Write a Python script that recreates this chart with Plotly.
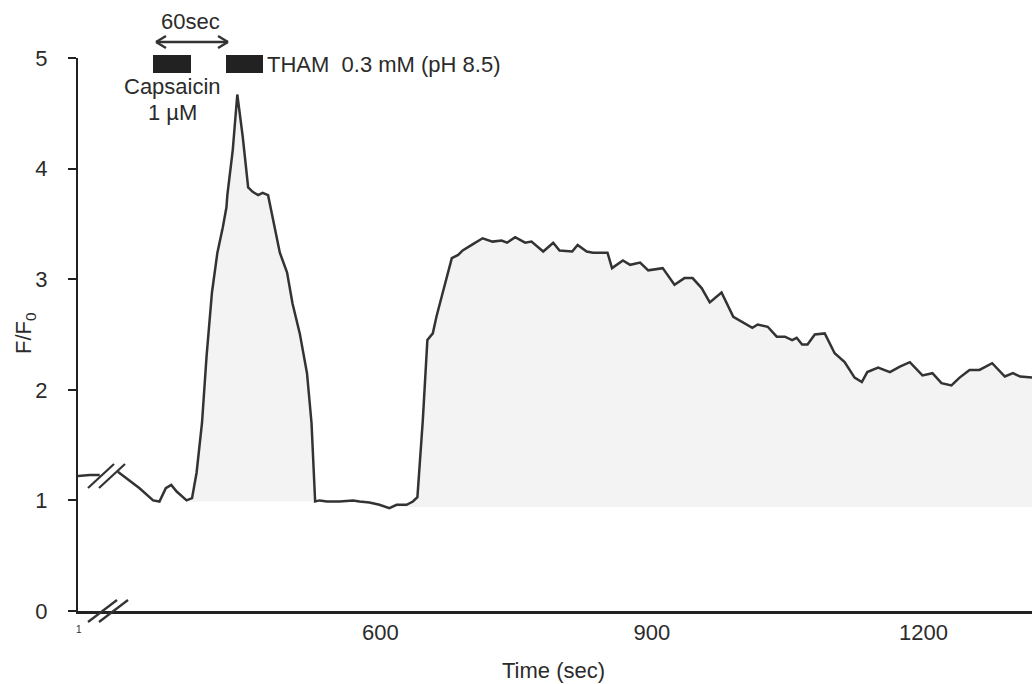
import plotly.graph_objects as go

# ---- data ----
# pre-break segment
t_pre = [266, 279, 290]
f_pre = [1.22, 1.23, 1.23]

# main trace (time in sec, F/F0)
t_main = [310, 323, 334, 349, 356, 363, 369, 375, 386, 392, 397, 403, 408, 414, 420,
          426, 430, 431, 437, 442, 448, 454, 459, 465, 470, 476, 481, 489, 497, 503,
          511, 519, 524, 528, 533, 541, 555, 570, 577, 588, 599, 610, 618, 629, 636,
          641, 647, 652, 658, 662, 669, 679, 686, 691, 701, 713, 724, 734, 740, 749,
          760, 767, 780, 791, 798, 812, 818, 828, 835, 851, 856, 868, 876, 887, 896,
          912, 925, 936, 945, 955, 964, 977, 990, 1001, 1011, 1017, 1028, 1038, 1047,
          1055, 1060, 1066, 1072, 1080, 1091, 1102, 1113, 1124, 1132, 1138, 1150,
          1163, 1174, 1185, 1199, 1210, 1220, 1231, 1240, 1251, 1262, 1276, 1290,
          1299, 1307, 1320]
f_main = [1.26, 1.18, 1.11, 1.00, 0.99, 1.11, 1.14, 1.08, 1.00, 1.02, 1.25, 1.70, 2.30, 2.88, 3.24,
          3.47, 3.65, 3.76, 4.17, 4.67, 4.29, 3.83, 3.79, 3.76, 3.78, 3.76, 3.56, 3.24, 3.06, 2.78,
          2.51, 2.15, 1.70, 0.99, 1.00, 0.99, 0.99, 1.00, 0.99, 0.98, 0.96, 0.93, 0.96, 0.96, 0.99,
          1.03, 1.73, 2.45, 2.51, 2.66, 2.88, 3.19, 3.22, 3.26, 3.31, 3.37, 3.34, 3.35, 3.33, 3.38,
          3.33, 3.34, 3.25, 3.33, 3.26, 3.25, 3.31, 3.25, 3.24, 3.24, 3.10, 3.17, 3.13, 3.15, 3.08,
          3.10, 2.95, 3.01, 3.01, 2.92, 2.79, 2.88, 2.66, 2.61, 2.56, 2.59, 2.57, 2.48, 2.48,
          2.45, 2.47, 2.41, 2.41, 2.50, 2.51, 2.33, 2.25, 2.11, 2.07, 2.16, 2.20,
          2.16, 2.21, 2.25, 2.13, 2.15, 2.06, 2.04, 2.11, 2.18, 2.18, 2.24, 2.12,
          2.15, 2.12, 2.11]

x_tickvals = [600, 900, 1200]
x_ticktext = ["600", "900", "1200"]
y_tickvals = [0, 1, 2, 3, 4, 5]

X_RANGE = [266, 1320]
Y_RANGE = [0, 5]

LINE = "#333333"
FILL = "rgb(243,243,243)"
TXT = "#2b2b2b"
FONT = "Liberation Sans, Arial, sans-serif"
FS = 22

fig = go.Figure()

# shaded responses (segment 1: capsaicin, segment 2: THAM)
seg1 = [i for i, t in enumerate(t_main) if 392 <= t <= 528]
seg2 = [i for i, t in enumerate(t_main) if t >= 618]
for seg, base in ((seg1, 0.99), (seg2, 0.94)):
    xs = [t_main[i] for i in seg]
    ys = [f_main[i] for i in seg]
    fig.add_trace(go.Scatter(x=xs, y=[base] * len(xs), mode="lines",
                             line=dict(width=0, color=FILL), hoverinfo="skip", showlegend=False))
    fig.add_trace(go.Scatter(x=xs, y=ys, mode="lines", fill="tonexty", fillcolor=FILL,
                             line=dict(width=0, color=FILL), hoverinfo="skip", showlegend=False))

fig.add_trace(go.Scatter(x=t_pre, y=f_pre, mode="lines",
                         line=dict(color=LINE, width=2.5), showlegend=False))
fig.add_trace(go.Scatter(x=t_main, y=f_main, mode="lines",
                         line=dict(color=LINE, width=2.5), showlegend=False))

W, H = 1032, 684
ML, MR, MT, MB = 78, 0, 58, 73
PW, PH = W - ML - MR, H - MT - MB


def px(xp):
    return (xp - ML) / PW


def py(yp):
    return (H - MB - yp) / PH


shapes = []
# axis breaks (x axis and trace)
for (x0, y0, x1, y1) in [(88, 622, 117, 600), (99, 622, 128, 600),
                         (88, 488, 114, 464), (99, 488, 125, 464)]:
    shapes.append(dict(type="line", xref="paper", yref="paper",
                       x0=px(x0), y0=py(y0), x1=px(x1), y1=py(y1),
                       line=dict(color=LINE, width=2.2)))
# stimulus bars
for (x0, x1) in [(153, 191), (226, 263)]:
    shapes.append(dict(type="rect", xref="paper", yref="paper",
                       x0=px(x0), x1=px(x1), y0=py(73), y1=py(55),
                       fillcolor="#222222", line=dict(width=0)))
# double-headed 60 sec arrow: shaft + heads
AY = 42
shapes.append(dict(type="line", xref="paper", yref="paper",
                   x0=px(156), y0=py(AY), x1=px(228), y1=py(AY),
                   line=dict(color=LINE, width=2.4)))
for (xa, xb) in [(156, 166), (228, 218)]:
    for dy in (-6, 6):
        shapes.append(dict(type="line", xref="paper", yref="paper",
                           x0=px(xa), y0=py(AY), x1=px(xb), y1=py(AY + dy),
                           line=dict(color=LINE, width=2.4)))


def label(text, xp, yp, size=FS, xanchor="center", angle=0):
    return dict(text=text, x=px(xp), y=py(yp), xref="paper", yref="paper",
                xanchor=xanchor, yanchor="middle", textangle=angle,
                showarrow=False, font=dict(size=size, color=TXT, family=FONT))


annotations = [
    label("60sec", 190, 21),
    label("THAM  0.3 mM (pH 8.5)", 265, 64, xanchor="left"),
    label("Capsaicin", 172, 86),
    label("1 µM", 172, 112),
    label("1", 79, 629, size=10),
    label("Time (sec)", 553, 670),
    label("F/F<sub>0</sub>", 25, 333, angle=-90),
]

fig.update_layout(
    width=W, height=H,
    margin=dict(l=ML, r=MR, t=MT, b=MB, pad=0),
    paper_bgcolor="white", plot_bgcolor="white",
    showlegend=False,
    shapes=shapes, annotations=annotations,
    font=dict(family=FONT, size=FS, color=TXT),
)
fig.update_xaxes(range=X_RANGE, tickvals=x_tickvals, ticktext=x_ticktext,
                 showgrid=False, zeroline=False, showline=True, linecolor="#222222",
                 linewidth=2.5, ticks="", ticklabelstandoff=0,
                 tickfont=dict(size=FS, color=TXT, family=FONT))
fig.update_yaxes(range=Y_RANGE, tickvals=y_tickvals,
                 showgrid=False, zeroline=False, showline=True, linecolor="#222222",
                 linewidth=2, ticks="outside", ticklen=8, tickwidth=2, tickcolor="#222222",
                 ticklabelstandoff=16,
                 tickfont=dict(size=FS, color=TXT, family=FONT))

fig.write_html("out.html")
